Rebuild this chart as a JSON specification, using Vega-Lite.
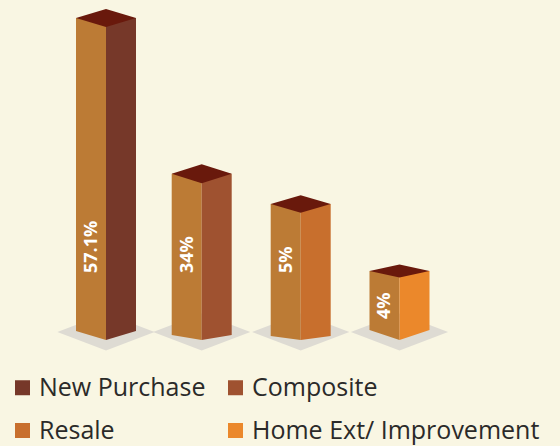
{
  "$schema": "https://vega.github.io/schema/vega-lite/v6.json",
  "width": 560,
  "height": 446,
  "padding": 0,
  "autosize": {"type": "none"},
  "background": "#F9F6E3",
  "config": {"font": "Open Sans", "view": {"stroke": null}},
  "data": {
    "values": [
      {"category": "New Purchase", "order": 1, "share": 57.1, "label": "57.1%", "labelAt": 3.86},
      {"category": "Composite", "order": 2, "share": 34, "label": "34%", "labelAt": 3.86},
      {"category": "Resale", "order": 3, "share": 5, "label": "5%", "labelAt": 3.86},
      {"category": "Home Ext/ Improvement", "order": 4, "share": 4, "label": "4%", "labelAt": 0.75}
    ]
  },
  "encoding": {
    "x": {
      "field": "order",
      "type": "quantitative",
      "axis": null,
      "scale": {"domain": [1, 2, 3, 4], "range": [106, 201.7, 300.7, 399.5], "zero": false, "nice": false, "padding": 0}
    }
  },
  "layer": [
    {
      "mark": {"type": "point", "filled": true, "opacity": 1, "size": 3600, "color": "#DEDBD3", "strokeWidth": 0, "yOffset": 2, "shape": "M-1.62,0 L0,-0.62 L1.62,0 L0,0.62 Z"},
      "encoding": {
        "y": {
          "datum": 0,
          "type": "quantitative",
          "axis": null,
          "scale": {"domain": [0, 4, 5, 34, 57.1], "range": [330, 271, 204, 173.7, 18], "nice": false}
        }
      }
    },
    {
      "mark": {"type": "bar", "orient": "vertical", "width": 30, "xOffset": -15, "color": "#BC7B35"},
      "encoding": {"y": {"field": "share", "type": "quantitative"}}
    },
    {
      "mark": {"type": "bar", "orient": "vertical", "width": 30, "xOffset": 15},
      "encoding": {
        "y": {"field": "share", "type": "quantitative"},
        "color": {
          "field": "category",
          "type": "nominal",
          "sort": null,
          "scale": {
            "domain": ["New Purchase", "Composite", "Resale", "Home Ext/ Improvement"],
            "range": ["#763829", "#9F5230", "#C86F2D", "#EB882B"]
          },
          "legend": {
            "orient": "none",
            "direction": "horizontal",
            "legendX": 10,
            "legendY": 375,
            "title": null,
            "columns": 2,
            "symbolType": "square",
            "symbolSize": 225,
            "symbolStrokeWidth": 0,
            "symbolOpacity": 1,
            "labelFont": "Open Sans",
            "labelFontSize": 25,
            "labelColor": "#2B2A29",
            "labelOffset": 4,
            "labelLimit": 400,
            "columnPadding": 17,
            "rowPadding": 17,
            "gridAlign": "each"
          }
        }
      }
    },
    {
      "transform": [{"calculate": "'left ' + datum.category", "as": "facet"}],
      "mark": {"type": "point", "filled": true, "opacity": 1, "size": 3600, "color": "#BC7B35", "strokeWidth": 0},
      "encoding": {
        "y": {"datum": 0, "type": "quantitative"},
        "shape": {
          "field": "facet",
          "type": "nominal",
          "legend": null,
          "scale": {
            "domain": [
              "left New Purchase", "left Composite", "left Resale", "left Home Ext/ Improvement",
              "right New Purchase", "right Composite", "right Resale", "right Home Ext/ Improvement",
              "cap New Purchase", "cap Composite", "cap Resale", "cap Home Ext/ Improvement"
            ],
            "range": [
              "M-1,0 L0,0 L0,0.333 L-1,0.033 Z",
              "M-1,0 L0,0 L0,0.333 L-1,0.167 Z",
              "M-1,0 L0,0 L0,0.333 L-1,0.2 Z",
              "M-1,0 L0,0 L0,0.333 Z",
              "M1,0 L0,0 L0,0.333 L1,0.033 Z",
              "M1,0 L0,0 L0,0.333 L1,0.167 Z",
              "M1,0 L0,0 L0,0.333 L1,0.2 Z",
              "M1,0 L0,0 L0,0.333 Z",
              "M-1,0 L0,-0.3 L1,0 L0,0.3 Z",
              "M-1,0 L0,-0.317 L1,0 L0,0.317 Z",
              "M-1,0 L0,-0.29 L1,0 L0,0.29 Z",
              "M-1,0 L0,-0.217 L1,0 L0,0.217 Z"
            ]
          }
        }
      }
    },
    {
      "transform": [{"calculate": "'right ' + datum.category", "as": "facet"}],
      "mark": {"type": "point", "filled": true, "opacity": 1, "size": 3600, "strokeWidth": 0},
      "encoding": {
        "y": {"datum": 0, "type": "quantitative"},
        "color": {"field": "category", "type": "nominal", "sort": null},
        "shape": {"field": "facet", "type": "nominal", "legend": null}
      }
    },
    {
      "transform": [{"calculate": "'cap ' + datum.category", "as": "facet"}],
      "mark": {"type": "point", "filled": true, "opacity": 1, "size": 3600, "color": "#69190C", "strokeWidth": 0},
      "encoding": {
        "y": {"field": "share", "type": "quantitative"},
        "shape": {"field": "facet", "type": "nominal", "legend": null}
      }
    },
    {
      "mark": {"type": "text", "angle": 270, "align": "left", "baseline": "middle", "xOffset": -14.2, "font": "Open Sans", "fontWeight": "bold", "fontSize": 18, "color": "#FFFFFF"},
      "encoding": {
        "y": {"field": "labelAt", "type": "quantitative"},
        "text": {"field": "label", "type": "nominal"}
      }
    }
  ]
}
